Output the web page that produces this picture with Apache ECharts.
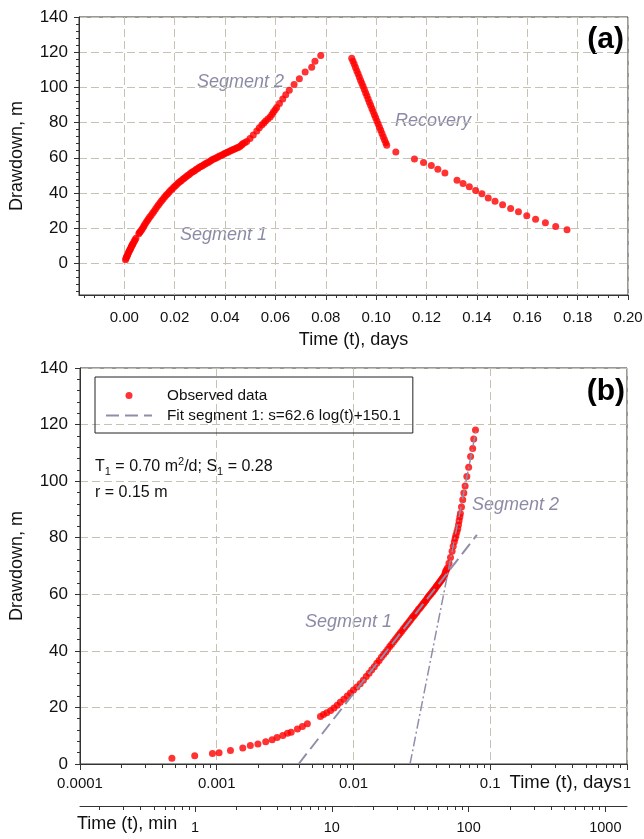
<!DOCTYPE html>
<html><head><meta charset="utf-8">
<script src="https://cdn.jsdelivr.net/npm/echarts@6/dist/echarts.min.js"></script>
<style>html,body{margin:0;padding:0;background:#fff}#c{width:644px;height:839px}</style>
</head><body><div id="c"></div>
<script>
// ---------- data ----------
const pumpTime = [0.00047,0.00069,0.00093,0.00104,0.00126,0.00155,0.00176,0.00200,0.00228,0.00254,0.00276,0.00304,0.00329,0.00350,0.00389,0.00423,0.00460,
  0.00573,0.00603,0.00638,0.0068,0.0072,0.0076,0.0080,0.0085,0.0090,0.0095,0.0100,0.0106,0.0112,0.0118,0.0124,0.0130,0.0136,0.0142,0.0148,0.0154,0.0160,
  0.0166,0.0172,0.0178,0.0184,0.0190,0.0196,0.0202,0.0208,0.0214,0.0220,0.0226,0.0232,0.0238,0.0244,0.0250,0.0256,0.0262,0.0268,0.0274,0.0280,0.0286,
  0.0292,0.0298,0.0304,0.0310,0.0316,0.0322,0.0328,0.0334,0.0340,0.0346,0.0352,0.0358,0.0364,0.0370,0.0376,0.0382,0.0388,0.0394,0.0400,0.0406,0.0412,
  0.0418,0.0424,0.0430,0.0436,0.0442,0.0448,0.0454,0.0460,0.0466,0.0470,
  0.0478,0.0486,0.0499,0.0512,0.0526,0.0536,0.0546,0.0554,0.0561,0.0570,0.0579,0.0586,0.0592,0.0599,0.0605,0.0616,0.0629,0.0641,0.0655,0.0674,0.0695,
  0.0718,0.0744,0.0757,0.0780];
const pumpS = [2.0,2.9,3.7,4.0,4.8,5.7,6.5,7.1,7.9,8.6,9.4,10.1,10.9,11.2,12.4,13.3,14.2,
  16.8,17.5,18.1,18.9,19.8,20.8,21.8,22.9,24.0,25.1,26.2,27.2,28.4,29.6,30.9,32.1,33.3,34.4,35.6,36.6,37.7,
  38.7,39.6,40.6,41.5,42.3,43.2,44.0,44.8,45.6,46.3,47.0,47.8,48.4,49.1,49.8,50.4,51.0,51.7,52.2,52.8,53.4,
  53.9,54.6,55.0,55.5,56.0,56.6,57.0,57.5,58.0,58.6,59.1,59.5,59.9,60.3,60.8,61.2,61.6,62.0,62.5,62.9,63.3,
  63.7,64.1,64.5,64.9,65.3,65.7,66.0,66.5,67.2,68.0,
  68.6,69.3,71.0,73.0,75.2,77.0,78.6,79.8,80.9,82.0,83.2,84.6,86.0,87.3,88.6,90.9,93.4,95.8,98.3,101.6,104.9,
  108.7,111.5,114.9,118.1];
const recTime = [0.0903,0.0908,0.0913,0.0918,0.0923,0.0928,0.0933,0.0938,0.0943,0.0948,0.0953,0.0958,0.0963,0.0968,0.0973,0.0978,0.0983,0.0988,
  0.0993,0.0998,0.1003,0.1008,0.1013,0.1018,0.1023,0.1028,0.1033,0.1038,0.1042,
  0.1078,0.1152,0.1188,0.1219,0.1245,0.1273,0.1321,0.1345,0.1370,0.1395,0.1420,0.1445,0.1472,0.1502,0.1534,0.1565,0.1598,0.1633,0.1672,0.1713,0.1758];
const recS = [116.6,114.9,113.1,111.3,109.5,107.7,105.9,104.1,102.4,100.6,98.8,97.0,95.2,93.4,91.6,89.8,88.0,86.3,
  84.5,82.7,80.9,79.2,77.4,75.6,73.8,72.0,70.3,68.5,67.1,
  63.3,59.3,57.3,55.6,53.5,51.4,47.2,45.4,43.5,41.4,39.5,37.2,35.3,33.3,31.2,29.3,27.0,25.1,23.1,21.0,19.1];
const fit1Time = [0.00397, 0.0798];
const fit1S = [0, 81];
const fit2Time = [0.0259, 0.0788];
const fit2S = [0, 118];

const aXTicks = [0,0.02,0.04,0.06,0.08,0.10,0.12,0.14,0.16,0.18,0.20];
const aXLabels = ['0.00','0.02','0.04','0.06','0.08','0.10','0.12','0.14','0.16','0.18','0.20'];
const yTicks = [0,20,40,60,80,100,120,140];
const dayTickLabels = ['0.0001','0.001','0.01','0.1','1'];
const minTickValues = [1,10,100,1000];
const minTickLabels = ['1','10','100','1000'];

// ---------- helpers ----------
const FONT = 'Liberation Sans, Arial, sans-serif';
const AX = '#333';
const GRIDC = '#c6c2b4';
const ANN = '#8b8ba6';
const FITC = '#8e8eab';
const zip = (a,b) => a.map((v,i)=>[v,b[i]]);

const aMinorX = []; for (let i=-4;i<50;i++){ if (i%5!==0) aMinorX.push(+(i*0.004).toFixed(4)); }
const aMinorY = []; for (let i=-4;i<35;i++){ if (i%5!==0) aMinorY.push(i*4); }
const dayMinor = []; for (let n=-4;n<0;n++){ for (let k=2;k<10;k++) dayMinor.push(n+Math.log10(k)); }
const minMin = Math.log10(1e-4*1440), minMax = Math.log10(1*1440);
const minMinor = []; for (let n=-1;n<4;n++){ for (let k=2;k<10;k++){ const v=n+Math.log10(k); if (v>minMin && v<minMax) minMinor.push(v);} }
const minMajor = minTickValues.map(v=>Math.log10(v));

const dashSplit = {show:true, lineStyle:{color:GRIDC, type:[8,4], width:1}};
const hidden = {axisLine:{show:false, onZero:false}, axisLabel:{show:false}, splitLine:{show:false}};

const chart = echarts.init(document.getElementById('c'), null, {renderer:'canvas'});
chart.setOption({
  animation:false,
  backgroundColor:'#fff',
  textStyle:{fontFamily:FONT},
  grid:[
    {left:79, right:16, top:17, height:278, show:true, borderColor:AX, borderWidth:1, backgroundColor:'transparent', containLabel:false, outerBoundsMode:'none'},
    {left:80, right:17, top:368, height:396, show:true, borderColor:AX, borderWidth:1, backgroundColor:'transparent', containLabel:false, outerBoundsMode:'none'}
  ],
  xAxis:[
    {gridIndex:0, type:'value', min:-0.018, max:0.2, position:'bottom',
     name:'Time (t), days', nameLocation:'middle', nameGap:36, nameTextStyle:{fontSize:18, color:'#111', fontFamily:FONT},
     axisLine:{onZero:false, lineStyle:{color:AX}}, axisTick:{customValues:aXTicks, length:5, lineStyle:{color:AX}},
     axisLabel:{customValues:aXTicks, fontSize:15, color:'#111', margin:15, fontFamily:FONT,
       formatter:v=>{const i=aXTicks.findIndex(t=>Math.abs(t-v)<1e-9); return i>=0?aXLabels[i]:'';}},
     splitLine:dashSplit},
    Object.assign({gridIndex:0, type:'value', min:-0.018, max:0.2, position:'bottom',
      axisTick:{show:true, customValues:aMinorX, length:3, lineStyle:{color:AX}}}, hidden),
    {gridIndex:1, type:'log', logBase:10, min:0.0001, max:1, position:'bottom',
     axisLine:{onZero:false, lineStyle:{color:AX}}, axisTick:{length:6, lineStyle:{color:AX}},
     axisLabel:{fontSize:15, color:'#111', margin:12, fontFamily:FONT,
       formatter:v=>{const i=Math.round(Math.log10(v))+4; return dayTickLabels[i]||'';}},
     splitLine:dashSplit},
    Object.assign({gridIndex:1, type:'value', min:-4, max:0, position:'bottom',
      axisTick:{show:true, customValues:dayMinor, length:4, lineStyle:{color:AX}}}, hidden),
    {gridIndex:1, type:'value', min:minMin, max:minMax, position:'bottom', offset:42,
     name:'Time (t), min', nameLocation:'start', nameGap:3,
     nameTextStyle:{fontSize:18, color:'#111', align:'left', verticalAlign:'top', padding:[9,0,0,0], fontFamily:FONT},
     axisLine:{show:true, onZero:false, lineStyle:{color:AX}}, axisTick:{show:true, customValues:minMajor, length:6, lineStyle:{color:AX}},
     axisLabel:{show:true, customValues:minMajor, fontSize:14.5, color:'#111', margin:14, fontFamily:FONT,
       formatter:v=>{const i=minMajor.findIndex(t=>Math.abs(t-v)<1e-9); return i>=0?minTickLabels[i]:'';}},
     splitLine:{show:false}},
    Object.assign({gridIndex:1, type:'value', min:minMin, max:minMax, position:'bottom', offset:42,
      axisTick:{show:true, customValues:minMinor, length:4, lineStyle:{color:AX}}}, hidden)
  ],
  yAxis:[
    {gridIndex:0, type:'value', min:-18, max:140, position:'left',
     name:'Drawdown, m', nameLocation:'middle', nameGap:53, nameTextStyle:{fontSize:18, color:'#111', fontFamily:FONT},
     axisLine:{show:true, onZero:false, lineStyle:{color:AX}}, axisTick:{show:true, customValues:yTicks, length:5, lineStyle:{color:AX}},
     axisLabel:{customValues:yTicks, fontSize:17, color:'#111', margin:11, fontFamily:FONT},
     splitLine:dashSplit},
    Object.assign({gridIndex:0, type:'value', min:-18, max:140, position:'left',
      axisTick:{show:true, customValues:aMinorY, length:3, lineStyle:{color:AX}}}, hidden),
    {gridIndex:1, type:'value', min:0, max:140, interval:20, position:'left',
     name:'Drawdown, m', nameLocation:'middle', nameGap:54, nameTextStyle:{fontSize:18, color:'#111', fontFamily:FONT},
     axisLine:{show:true, onZero:false, lineStyle:{color:AX}}, axisTick:{show:true, length:5, lineStyle:{color:AX}},
     minorTick:{show:true, splitNumber:5, length:3, lineStyle:{color:AX}},
     axisLabel:{fontSize:17, color:'#111', margin:12, fontFamily:FONT},
     splitLine:dashSplit}
  ],
  legend:{
    left:95, top:377, orient:'vertical', borderColor:'#222', borderWidth:1, padding:[11,12,10,10],
    itemWidth:46, itemHeight:7, itemGap:5,
    textStyle:{fontSize:15.3, color:'#111', fontFamily:FONT, padding:[0,0,0,10]},
    data:[{name:'Observed data', icon:'circle'}, {name:'Fit segment 1: s=62.6 log(t)+150.1', itemStyle:{opacity:0}}]
  },
  series:[
    {type:'scatter', name:'pumping+recovery', xAxisIndex:0, yAxisIndex:0, symbolSize:7,
     itemStyle:{color:'#ff0000'}, data: zip(pumpTime,pumpS).concat(zip(recTime,recS)), z:2},
    {type:'scatter', name:'Observed data', xAxisIndex:2, yAxisIndex:2, symbolSize:7,
     itemStyle:{color:'#ff0000'}, data: zip(pumpTime,pumpS), z:2},
    {type:'line', name:'Fit segment 1: s=62.6 log(t)+150.1', xAxisIndex:2, yAxisIndex:2, symbol:'none',
     lineStyle:{color:FITC, width:2, type:[13,6]}, itemStyle:{color:FITC}, data: zip(fit1Time,fit1S), z:3},
    {type:'line', name:'Fit segment 2', xAxisIndex:2, yAxisIndex:2, symbol:'none',
     lineStyle:{color:FITC, width:1.5, type:[10,3,2,3]}, itemStyle:{color:FITC}, data: zip(fit2Time,fit2S), z:3}
  ],
  graphic:[
    {type:'text', x:624, y:40, style:{text:'(a)', font:'bold 30px '+FONT, fill:'#000', align:'right', verticalAlign:'middle'}},
    {type:'text', x:197, y:82, style:{text:'Segment 2', font:'italic 18px '+FONT, fill:ANN, verticalAlign:'middle'}},
    {type:'text', x:395, y:121, style:{text:'Recovery', font:'italic 18px '+FONT, fill:ANN, verticalAlign:'middle'}},
    {type:'text', x:180, y:235, style:{text:'Segment 1', font:'italic 18px '+FONT, fill:ANN, verticalAlign:'middle'}},
    {type:'text', x:625, y:392, style:{text:'(b)', font:'bold 30px '+FONT, fill:'#000', align:'right', verticalAlign:'middle'}},
    {type:'text', x:95, y:467, style:{text:'T{sub|1} = 0.70 m{sup|2}/d; S{sub|1} = 0.28', font:'16px '+FONT, fill:'#111', verticalAlign:'middle',
      rich:{sub:{fontSize:11, fontFamily:FONT, fill:'#111', padding:[10,0,0,0]}, sup:{fontSize:11, fontFamily:FONT, fill:'#111', padding:[0,0,10,0]}}}},
    {type:'text', x:95, y:493, style:{text:'r = 0.15 m', font:'16px '+FONT, fill:'#111', verticalAlign:'middle'}},
    {type:'text', x:472, y:505, style:{text:'Segment 2', font:'italic 18px '+FONT, fill:ANN, verticalAlign:'middle'}},
    {type:'text', x:305, y:622, style:{text:'Segment 1', font:'italic 18px '+FONT, fill:ANN, verticalAlign:'middle'}},
    {type:'text', x:622, y:783, style:{text:'Time (t), days', font:'18.5px '+FONT, fill:'#111', align:'right', verticalAlign:'middle'}}
  ]
});
</script></body></html>
